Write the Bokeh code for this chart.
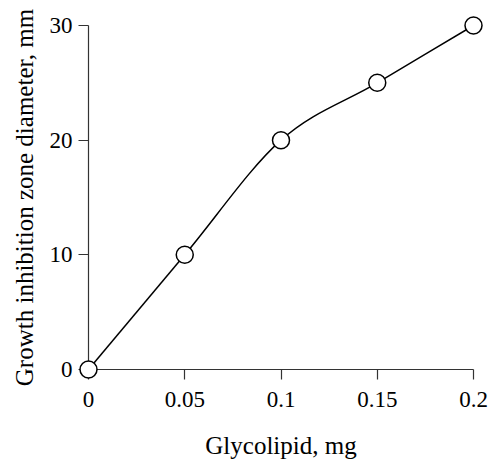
import numpy as np
from bokeh.plotting import figure
from bokeh.models import Range1d, FixedTicker
from bokeh.embed import file_html
from bokeh.resources import INLINE

# ---- data ----
glycolipid_mg = [0, 0.05, 0.1, 0.15, 0.2]
zone_mm = [0, 10, 20, 25, 30]
x_ticks = [0, 0.05, 0.1, 0.15, 0.2]
x_tick_labels = ["0", "0.05", "0.1", "0.15", "0.2"]
y_ticks = [0, 10, 20, 30]
y_tick_labels = ["0", "10", "20", "30"]
x_label = "Glycolipid, mg"
y_label = "Growth inhibition zone diameter, mm"

FONT = "Liberation Serif"
PAD = 10  # px padding of the frame around the data box (so markers are not clipped)
frame_w, frame_h = 405, 364
x_span = x_ticks[-1] - x_ticks[0]
y_span = y_ticks[-1] - y_ticks[0]
dx = PAD * x_span / (frame_w - 2 * PAD)
dy = PAD * y_span / (frame_h - 2 * PAD)

p = figure(width=489, height=462, output_backend="svg", toolbar_location=None,
           x_range=Range1d(x_ticks[0] - dx, x_ticks[-1] + dx),
           y_range=Range1d(y_ticks[0] - dy, y_ticks[-1] + dy),
           min_border_left=78, min_border_right=6, min_border_top=15, min_border_bottom=83)
p.outline_line_color = None
p.grid.visible = False
p.background_fill_color = "white"
p.border_fill_color = "white"

for ax, ticks, labels, lab in ((p.xaxis[0], x_ticks, x_tick_labels, x_label),
                               (p.yaxis[0], y_ticks, y_tick_labels, y_label)):
    ax.ticker = FixedTicker(ticks=ticks)
    ax.major_label_overrides = {t: l for t, l in zip(ticks, labels)}
    ax.bounds = (ticks[0], ticks[-1])
    ax.axis_line_color = None
    ax.major_tick_in = PAD
    ax.major_tick_out = 0
    ax.major_tick_line_color = "#333333"
    ax.major_tick_line_width = 1.2
    ax.minor_tick_line_color = None
    ax.major_label_text_font = FONT
    ax.major_label_text_font_size = "23px"
    ax.major_label_text_color = "black"
    ax.axis_label = lab
    ax.axis_label_text_font = FONT
    ax.axis_label_text_font_size = "25px"
    ax.axis_label_text_font_style = "normal"
    ax.axis_label_text_color = "black"

p.xaxis.major_label_standoff = 12
p.xaxis.axis_label_standoff = 22
p.yaxis.major_label_standoff = 6
p.yaxis.axis_label_standoff = 9

# axis lines through the data origin
p.segment(x0=[x_ticks[0], x_ticks[0]], y0=[y_ticks[0], y_ticks[0]],
          x1=[x_ticks[0], x_ticks[-1]], y1=[y_ticks[-1], y_ticks[0]],
          line_color="#333333", line_width=1.2)

# smooth curve (Catmull-Rom through the data points, drawn as Bezier segments)
xs = np.array(glycolipid_mg, dtype=float)
ys = np.array(zone_mm, dtype=float)
px = np.concatenate([[2 * xs[0] - xs[1]], xs, [2 * xs[-1] - xs[-2]]])
py = np.concatenate([[2 * ys[0] - ys[1]], ys, [2 * ys[-1] - ys[-2]]])
n = len(xs) - 1
x0 = px[1:n + 1]; y0 = py[1:n + 1]
x1 = px[2:n + 2]; y1 = py[2:n + 2]
cx0 = x0 + (px[2:n + 2] - px[0:n]) / 6
cy0 = y0 + (py[2:n + 2] - py[0:n]) / 6
cx1 = x1 - (px[3:n + 3] - px[1:n + 1]) / 6
cy1 = y1 - (py[3:n + 3] - py[1:n + 1]) / 6
p.bezier(x0=x0, y0=y0, x1=x1, y1=y1, cx0=cx0, cy0=cy0, cx1=cx1, cy1=cy1,
         line_color="black", line_width=1.5)

markers = p.scatter(glycolipid_mg, zone_mm, size=17, marker="circle",
                    fill_color="white", line_color="black", line_width=1.5)
markers.level = "overlay"  # markers above the axis ticks, as in the original

open("out.html", "w").write(file_html(p, INLINE))
